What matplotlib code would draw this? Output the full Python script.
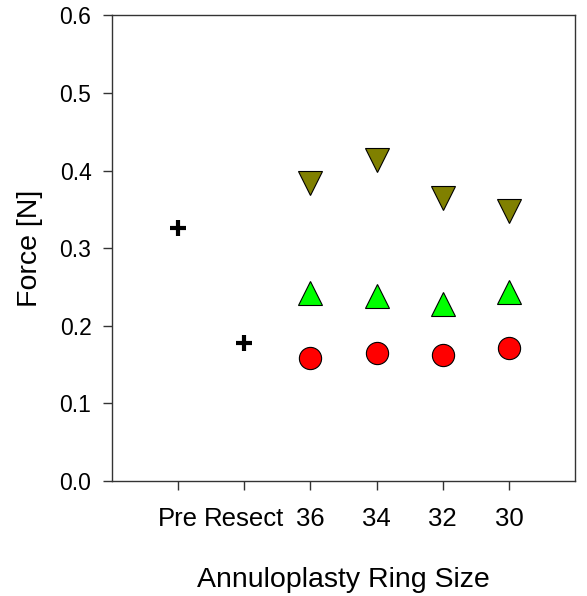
import matplotlib
matplotlib.use("Agg")
import matplotlib.pyplot as plt

plt.rcParams['font.family'] = ['Liberation Sans', 'DejaVu Sans']

categories = ["Pre", "Resect", "36", "34", "32", "30"]
ring_pos = [3, 4, 5, 6]
base_pos = [1, 2]

baseline = [0.326, 0.178]
down_tri = [0.384, 0.414, 0.365, 0.348]
up_tri = [0.242, 0.238, 0.228, 0.243]
circles = [0.158, 0.165, 0.163, 0.171]

fig = plt.figure(figsize=(5.87, 5.96), dpi=100)
ax = fig.add_axes([0.190, 0.193, 0.790, 0.781])

ax.plot(base_pos, baseline, linestyle='none', marker='+', color='black',
        markersize=11, markeredgewidth=3)
ax.plot(ring_pos, down_tri, linestyle='none', marker='v', markersize=17,
        markerfacecolor='#808000', markeredgecolor='black', markeredgewidth=0.8)
ax.plot(ring_pos, up_tri, linestyle='none', marker='^', markersize=17,
        markerfacecolor='#00ff00', markeredgecolor='black', markeredgewidth=0.8)
ax.plot(ring_pos, circles, linestyle='none', marker='o', markersize=16,
        markerfacecolor='#ff0000', markeredgecolor='black', markeredgewidth=0.8)

ax.set_xlim(0, 7)
ax.set_ylim(0, 0.6)
ax.set_xticks(range(1, 7))
ax.set_xticklabels(categories)
ax.set_yticks([0.0, 0.1, 0.2, 0.3, 0.4, 0.5, 0.6])
ax.set_yticklabels(["0.0", "0.1", "0.2", "0.3", "0.4", "0.5", "0.6"])
ax.tick_params(axis='both', direction='out', length=6.5, width=1, color='#333333')
ax.tick_params(axis='x', labelsize=18.5, pad=12)
ax.tick_params(axis='y', labelsize=16.5, pad=8)
for s in ax.spines.values():
    s.set_linewidth(1)
    s.set_color('#333333')

ax.set_xlabel("Annuloplasty Ring Size", fontsize=20.5, labelpad=26)
ax.set_ylabel("Force [N]", fontsize=20.5, labelpad=12)

fig.savefig("out.png", dpi=100)
